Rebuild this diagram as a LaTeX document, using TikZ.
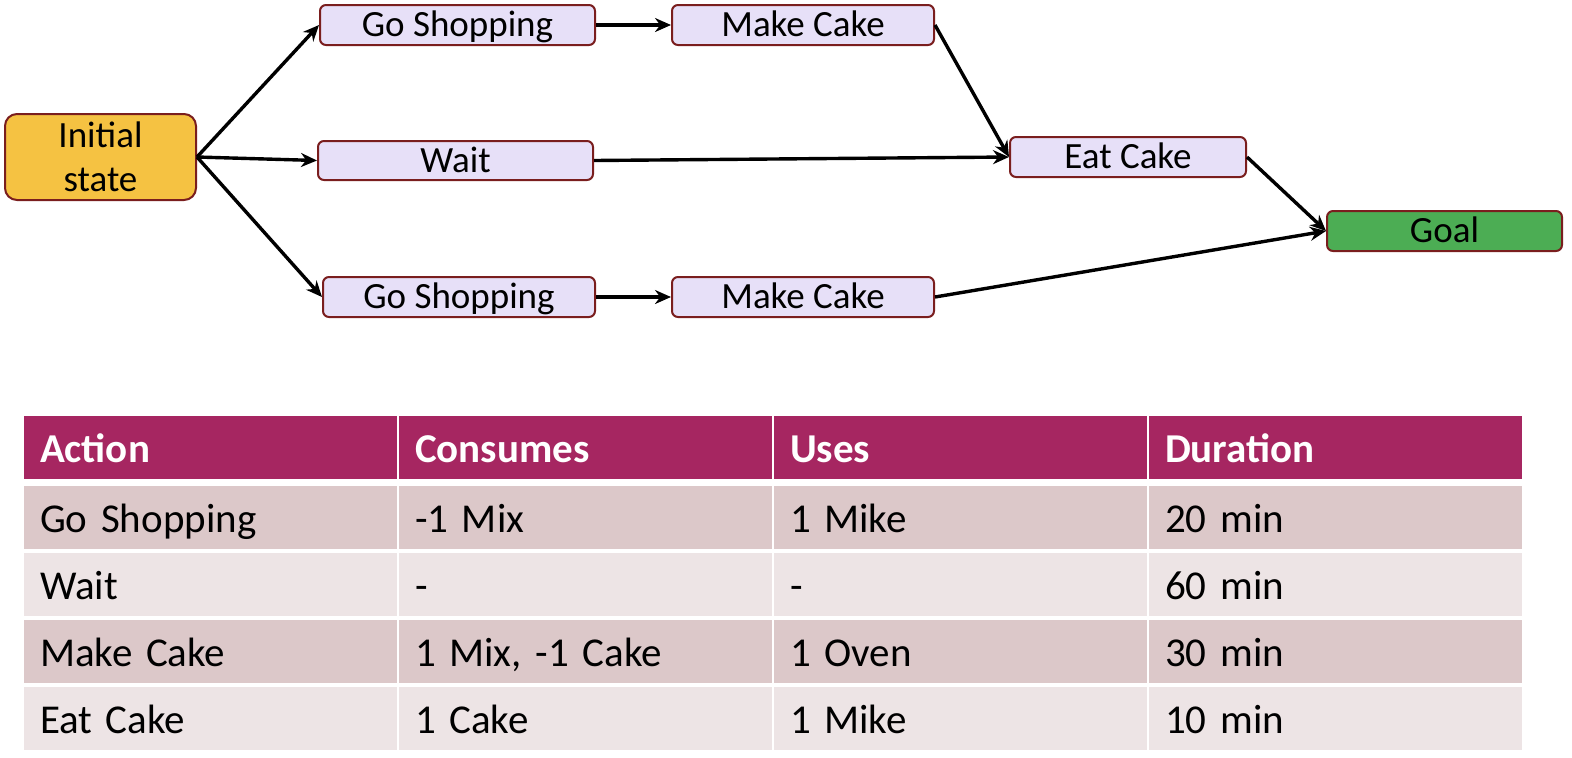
\documentclass[tikz,border=0pt]{standalone}
\usepackage{fontspec}
\setmainfont{Carlito}
\usetikzlibrary{arrows.meta}

\definecolor{boxedge}{RGB}{122,30,30}
\definecolor{boxfill}{RGB}{231,224,248}
\definecolor{startfill}{RGB}{245,194,66}
\definecolor{goalfill}{RGB}{76,173,84}
\definecolor{headfill}{RGB}{166,38,97}
\definecolor{rowdark}{RGB}{220,200,201}
\definecolor{rowlight}{RGB}{237,228,229}

\tikzset{
  act/.style={draw=boxedge, fill=boxfill, line width=1pt, rounded corners=3pt,
    minimum height=20pt, inner sep=0pt, text height=15.5pt, text depth=4pt,
    font=\fontsize{18.5}{20}\selectfont},
  link/.style={-{Stealth[length=8pt,width=7pt]}, line width=1.7pt},
  cell/.style={inner xsep=8pt, inner ysep=0pt, text width=170.5pt, align=left,
    minimum height=31.5pt, text height=20pt, text depth=4.8pt,
    font=\fontsize{20.5}{24}\selectfont},
  hcell/.style={cell, fill=headfill, text=white, font=\fontsize{20.5}{24}\selectfont\bfseries},
  dcell/.style={cell, fill=rowdark},
  lcell/.style={cell, fill=rowlight},
}

\begin{document}
\begin{tikzpicture}[x=0.5pt,y=-0.5pt]
\useasboundingbox (0,0) rectangle (1572,757);

% plan graph
\node[act, fill=startfill, rounded corners=6pt, minimum width=95.5pt, minimum height=43pt,
  text height=, text depth=, align=center, font=\fontsize{18.5}{22}\selectfont] (init) at (100.5,157) {Initial\\state};
\node[act, minimum width=137.5pt] (gs1) at (457.5,25) {Go Shopping};
\node[act, minimum width=131pt] (mc1) at (803,25) {Make Cake};
\node[act, minimum width=137.5pt, minimum height=19.5pt] (wait) at (455.5,160.5) {Wait};
\node[act, minimum width=118pt] (eat) at (1128,157) {Eat Cake};
\node[act, fill=goalfill, minimum width=117.5pt] (goal) at (1444.5,231) {Goal};
\node[act, minimum width=136pt] (gs2) at (459,297) {Go Shopping};
\node[act, minimum width=131pt] (mc2) at (803,297) {Make Cake};

\draw[link] (init.east) -- (gs1.west);
\draw[link] (init.east) -- (wait.west);
\draw[link] (init.east) -- (gs2.west);
\draw[link] (gs1) -- (mc1);
\draw[link] (gs2) -- (mc2);
\draw[link] (mc1.east) -- (eat.west);
\draw[link] (wait.east) -- (eat.west);
\draw[link] (eat.east) -- (goal.west);
\draw[link] (mc2.east) -- (goal.west);

% action table
\node[hcell] (h1) at (210.5,447.5) {Action};
\node[hcell] (h2) at (585.5,447.5) {Consumes};
\node[hcell] (h3) at (960.5,447.5) {Uses};
\node[hcell] (h4) at (1335.5,447.5) {Duration};

\node[dcell] (a1) at (210.5,517.5) {Go Shopping};
\node[dcell] (b1) at (585.5,517.5) {-1 Mix};
\node[dcell] (c1) at (960.5,517.5) {1 Mike};
\node[dcell] (d1) at (1335.5,517.5) {20 min};

\node[lcell] (a2) at (210.5,584) {Wait};
\node[lcell] (b2) at (585.5,584) {-};
\node[lcell] (c2) at (960.5,584) {-};
\node[lcell] (d2) at (1335.5,584) {60 min};

\node[dcell] (a3) at (210.5,651) {Make Cake};
\node[dcell] (b3) at (585.5,651) {1 Mix, -1 Cake};
\node[dcell] (c3) at (960.5,651) {1 Oven};
\node[dcell] (d3) at (1335.5,651) {30 min};

\node[lcell] (a4) at (210.5,718) {Eat Cake};
\node[lcell] (b4) at (585.5,718) {1 Cake};
\node[lcell] (c4) at (960.5,718) {1 Mike};
\node[lcell] (d4) at (1335.5,718) {10 min};
\end{tikzpicture}
\end{document}
